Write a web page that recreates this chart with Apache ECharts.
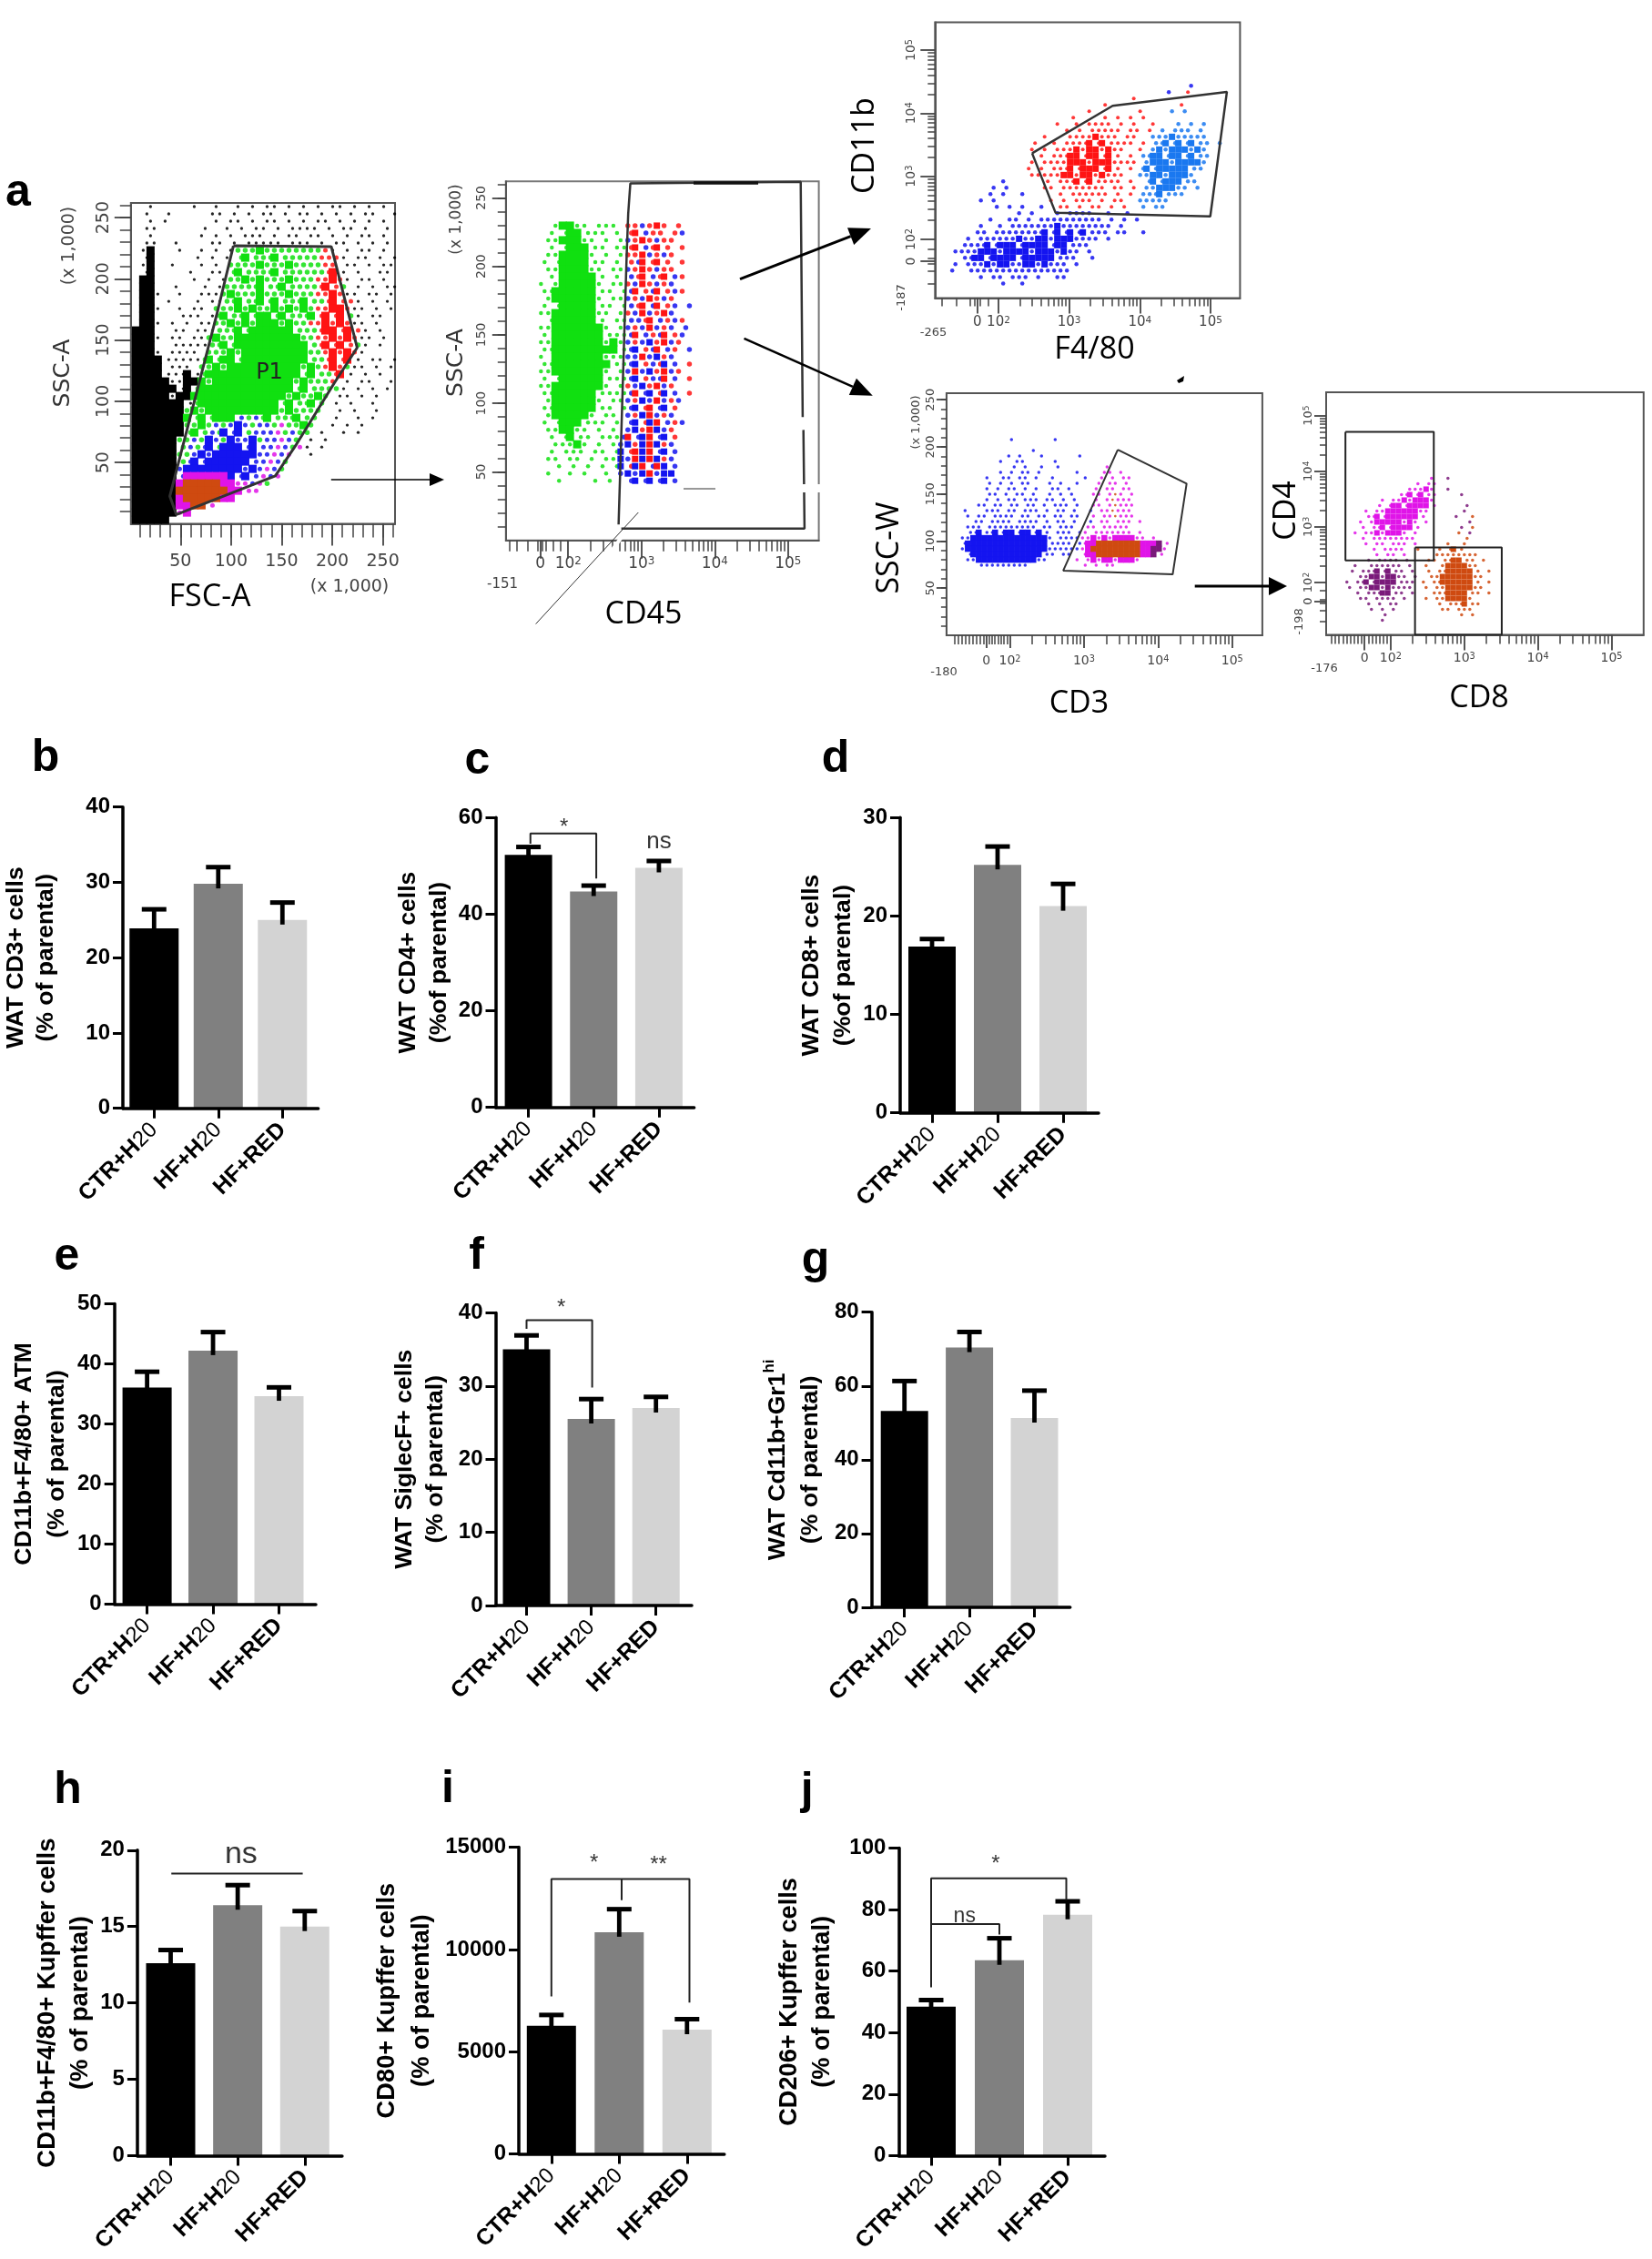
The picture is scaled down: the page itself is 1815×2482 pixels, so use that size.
<!DOCTYPE html>
<html><head><meta charset="utf-8"><style>html,body{margin:0;background:#fff}#c{width:1815px;height:2482px}</style>
<script src="https://cdn.jsdelivr.net/npm/echarts@6/dist/echarts.min.js"></script></head><body><div id="c"></div><script>
const categories=['CTR+H20','HF+H20','HF+RED'];
const barColors=['#000000','#808080','#d3d3d3'];
// mean and top of error bar per panel
const meanB=[23.9,29.8,25.0], errB=[26.6,32.2,27.5];
const meanC=[52.3,44.7,49.6], errC=[54.2,46.2,51.3];
const meanD=[16.9,25.2,21.0], errD=[17.8,27.2,23.4];
const meanE=[36.05,42.2,34.6], errE=[38.9,45.5,36.3];
const meanF=[35.0,25.5,27.0], errF=[37.1,28.4,28.7];
const meanG=[53.2,70.4,51.3], errG=[61.7,75.0,59.1];
const meanH=[12.6,16.4,15.0], errH=[13.55,17.8,16.1];
const meanI=[6270,10846,6080], errI=[6865,12038,6660];
const meanJ=[48.4,63.5,78.3], errJ=[51.0,71.1,83.1];
// flow gates, in axis units
const gateA=[[102.3,227],[199,226.4],[224.6,143.8],[201.9,114.8],[164.9,65.3],[143.7,39],[45.9,7.5],[39.5,22.5],[85.6,170],[102.3,227]];
const gateB=[[5.21,80.6],[5.225,8.65],[2.725,8.65],null,[2.688,11.6],[2.797,206.3],[2.819,238.3],[2.848,260.5],[5.173,261.7],[5.2,90]];
const gateC=[[2.476,3.365],[3.615,4.117],[5.231,4.338],[4.996,2.364],[2.807,2.423],[2.476,3.365]];
const gateD=[[3.456,196.9],[4.385,160.9],[4.197,64.7],[2.72,68.7],[3.456,196.9]];
const gateE1=[[1.386,4.709],[2.586,4.709],[2.586,2.396],[1.386,2.396],[1.386,4.709]];
const gateE2=[[2.331,2.63],[3.509,2.63],[3.509,1.061],[2.331,1.061],[2.331,2.63]];
// flow event density; one char per cell, upper case = dense
const rowsA=[
"  k     k  k  k k kk k k k kk k k k k"," k  k     kk k k kk k kk k k k kk  k","  k k      k kk k kk k k kk k k k k "," kk      k  k k kk k kkkk k kk k  k","  k      k k k kkk k kk kk k k kk k"," kk  k    kk k kkkkk kkk k kk k k k",
" kK   k  k k k"+"gggGggggggggr"+"k k kk k "," kK     k k k "+"gGgggGgggggrrr"+"k kk k k"," kK  k   k k "+"ggggGgggGggggrr"+" kk k kk"," kK    k  kk "+"gGggggGggggggrR"+"k k  kk "," KK     k k k"+"ggGgGgggGgggrrRr"+"k kk k"," KK  k   k k"+"gggggGggGggggrRrg"+" k k kk",
" KKk  k  kkk"+"gGgggGgggGgggrrRr"+"kk kk k"," KK k   k kk"+"ggGggGgGgggGggrRrr"+"k k k "," KKk  k kk "+"gggGgGggGgGgGgrrRRr"+"kk k k"," KK   kkk k"+"gGggGgGGgGgggGrRrRg"+"k kk "," KKk k k kk"+"ggGgGgGGGgGggrrRrRr"+"kk k","KKK  kk kkk"+"gggGgGGGGGGgggrRRrRr"+"k k ",
"KKKk kk kk"+"gGggGGGGGGGGGggrrRrRr"+"kk k","KKK  kkkkk"+"ggGgGGGGGGGGGGgrRrRrg"+"k k ","KKKk kkkk "+"gggGgGGGGGGGGGggrRrRr"+"k  ","KKKKkkkkk"+"gGgGGgGGGGGGGGGggrRrR"+"k kk k","KKKK kkk "+"ggGgGGGGGGGGGGgGgrRrg"+"kk k k","KKKKkkkKk"+"gGGGGGGGGGGGGGgGggrR"+"k k k  ",
"KKKKKkkKK"+"GgGGGGGGGGGGGgGgggr"+" k kk  k","KKKKKKkK"+"gGGGGGGGGGGGGGgGgggg"+"k k k k ","KKKKKkKK"+"GGGGGGGGGGGGGgGggGg"+" kk k k ","KKKKKKKk"+"gGGGGGGGGGGGgGggGg"+" k k  k  ","KKKKKKK"+"gGgGGGGGGGGGGgGgggg"+"  k k  k","KKKKKKK"+"GgGgGGGbgbgGgggGgg"+"  k  k k",
"KKKKKKK"+"ggGgbgbBbgbbgmggGg"+"  k k k","KKKKKKK"+"gGgbgBbBgbbbmgbgg"+" k  k k","KKKKKK"+"ggbgBbgBbbBgbbmbg"+" k k","KKKKKK"+"gbgbBgBBBbBbbmbgm"+"k k","KKKKKK"+"ggbBbBBBBBBbbmbm"+"  k","KKKKKK"+"gbBbBBBBBBbbmbg",
"KKKKKK"+"bBBBBBBBBbBbmbg","KKKKKK"+"bMMMMMMBbBbmbm","KKKKKK"+"MOOOOOMMmmbmg","KKKKKK"+"OOOOOOOMMmm","KKKKKK"+"MOOOOOMM","KKKKKK"+"MMOOm","KKKKKK"+"mM","KKKKK "];
const rowsB=[
"   gGGgg ggg rrbrRr r","  g gGGggg g rRbrr rb","  ggGGGgg g gbrRrbrr ","  g gGGGgg ggrRbrRr r","  ggGGGGg g grrRbrbr "," g gGGGGgg g rbRrRr r","  ggGGGGgg ggbrRrbrr ","  g GGGGGg g brRbrRbr"," g gGGGGGg ggrbRrbrb "," ggGGGGGGgg gbRrbRrbr","  gGGGGGGg ggbrbRrbr "," g gGGGGGgg gbrRbRrb b"," ggGGGGGGgg grbRbrRb ","  gGGGGGGg ggbbrRbrbr "," ggGGGGGGGg gbrbRbrb b"," g GGGGGGGgggbRbrbRrb "," ggGGGGGGGgGgbrbBrRbr "," ggGGGGGGGGGgbBrbRbr b",
" g GGGGGGGgggbbRbBrb  "," ggGGGGGGGGggbBrbrBb r"," ggGGGGGGGg gbRbBrRbr "," g gGGGGGGgggbBrbbRb r"," ggGGGGGGGg grbBrRbr  "," ggGGGGGGggggbRbBrBb r","  gGGGGGGg ggbrBbRbrb "," ggGGGGGGgg gbBrRbBr  ","  gGGGGGg gg brBRbrb  "," g gGGGggg g bBrBRbrb ","  ggGGgg g g bBrRBbr  ","  g gGgg gggbRbBRbBr  ","   gggGg g gbBrBRBrb  ","  g ggg gg gBrRBRbBb  ","  gg gg g ggBbRBRBrb  ","   g g g g gBrBRbRBb  ","  g  g g  g bBbBRbBB  ","   g    g g  bBbBbBb   "];
const rowsC=[
"                                      b","                                  b  r","                             r   ","                        r           r","                      r       r    l l","                   r    r r r r     ","                 r  r rrrr r r  r   l l l","                  r r rrrrr rr r l lll l","               r   rrrrRrrr rr  lllLlllll","             r  r rrrrRrRrrrr r llLlLlLll l","             r r rrrRrRRrRrr  r lLlLLLlLl","              r rrrRRrRRrRr r llLLlLLlLll","             r rrrrRRRrRRRrrrr lLLLlLLLLl","            r r rrrRrRRRrRr r lLlLLLLLll","             rrrrrRRrRRrRrrr  llLLlLLLl","        b      r rrrRrRrrrr r  lLlLLLll",
"       b b     rr rrrrrrr rr r llLLLll l","      b b  b     r rrrrrr r r lllLlll","     b b        r r rrr r rr  lllll","       b b b  b  rr r rr r r  l ll","           b b   b bbbb  b  b ","      b  bb b bbbbbbbbbb b b b","     b  b bbbbbbbBbbbbbbbb b","    bb bbbbbbbbBbBbBbBbbb bb  b","   b bbbbbbBbbBBbBBBbbbb b","  bbbbBbBBBbBBBBbBBbbb"," bbbbBBBbBBBBbBBBbBbb b","  bbBBbBBBBbBBBBBbbb  b"," b bbbBbBBbbBBbBbbb b","b  bbbbbbbbbbbbbbbb ","     b bb bbb b  bb","        b  b  "];
const rowsD=[
"          b       b","","              b ","         b b   b      b","        b  bb     b  ","          b b  b  b        m","        b b bb b      b    mm m","     b  bb bb b  b     b  m m mm","      b b b bb   b b  b   m mm m","     b b bb b b  bb b    m mm mm","      bb b bb b  b b b   mm mom m","     b b bb bbb bb b b   m mommm","    bb bb bb bb b bbb b  mm mommm"," b   bbb bb bbb b bb b  b mmommm","  b bb bbbb bb bb bb bb  m mmommm","   bb bbbb bbbb b bb b  b mm mmm m","  bbb bbbbbbbbb bb bbb  mm mmmmm","  bbBbbBbBBbBBbBb bbb bm mmmmmmm m"," bbBBBBBBBBBBBBBBb bbbbmmMmMmMMMMmm m"," bBBBBBBBBBBBBBBBbbbb bmMMOOOOOOOOMMMPm"," bBBBBBBBBBBBBBBBbbbbbbmMOOOOOOOOOMMPPm","  bBBBBBBBBBBBBBbb bb  mMMOOOOOOOOMMPm","  bbBBBBBBBBBBBbb     m mMmMMmMMMm","    bbbbbbbbb          m m mm "];
const rowsE=[
"                 m  p","              m mm","             mmmMm  p","           mmMmMmm    p","        m mmMmMMMm","       m mMMmMMMMm     p","     m mmMMMMMMmm      p","     mmMmMMMMMMm     p  o","    m mMMMMMmMm m       p","    m mmMmMMMMm       p o","   m mmMmMMMm m       o p","    m mmmmmmmm         o","     m mm mmm m     o  o","      m mmmm  o   o oOo  ","       m mm m     oooooooo","     p pmpp p   oo ooOOoo o","   p  pppppp p  o  oOOOOoo","  p pppPpPpp p  o ooOOOOOo o","    ppPPpPPpp p  ooOOOOOOoo"," p ppPpPPPPppp o ooOOOOOOo o","  p ppPPpPpppp  o ooOOOOOoo","   p pppPPpp p   oooOOOOoo o","    pp pppp p   o ooOOOOo","     p p pp       o oooOoo","      p p p        oo ooo","        p             o o","        p "];
const linTicks=[50,100,150,200,250];
const linLabels=['50','100','150','200','250'];
const logLabels=['0','10{s|2}','10{s|3}','10{s|4}','10{s|5}'];

const colors={k:'#000',g:'#10e010',r:'#ff1414',b:'#1414f0',l:'#1a78f0',m:'#e014e8',p:'#7a1a7a',o:'#cf4a10'};
const grid=[],xAxis=[],yAxis=[],series=[];
const fontB='"Liberation Sans",Arial,sans-serif', fontC='"Open Sans",sans-serif', fontT='"DejaVu Sans",sans-serif';

function barPanel(p){
  const g=grid.length, xi=xAxis.length, yi=yAxis.length;
  grid.push({left:p.x0,top:p.yTop,width:p.xEnd-p.x0,height:p.yZero-p.yTop});
  const vals=p.mean.map((_,i)=>i);
  xAxis.push({gridIndex:g,type:'value',position:'bottom',z:6,min:-(p.c0-p.x0)/p.step,max:(p.xEnd-p.c0)/p.step,splitLine:{show:false},
    axisLine:{onZero:false,lineStyle:{color:'#000',width:3.5}},
    axisTick:{customValues:vals,length:11,lineStyle:{color:'#000',width:3}},
    axisLabel:{customValues:vals,rotate:45,margin:20,fontFamily:fontB,fontSize:25,fontWeight:'bold',color:'#000',
      formatter:v=>{const c=categories[Math.round(v)];return c.endsWith('20')?'{b|'+c.slice(0,-2)+'}{n|20}':'{b|'+c+'}';},
      rich:{b:{fontFamily:fontB,fontSize:25,fontWeight:'bold',color:'#000'},n:{fontFamily:fontB,fontSize:24,fontWeight:'normal',color:'#000'}}}});
  yAxis.push({gridIndex:g,type:'value',position:'left',z:6,min:0,max:p.max,interval:p.interval,splitLine:{show:false},
    axisLine:{show:true,onZero:false,lineStyle:{color:'#000',width:3.5}},
    axisTick:{show:true,length:11,lineStyle:{color:'#000',width:3}},
    axisLabel:{margin:14,fontFamily:fontB,fontSize:24,fontWeight:'bold',color:'#000',formatter:v=>String(v)},
    name:p.name,nameLocation:'middle',nameRotate:90,nameGap:p.gap,
    nameTextStyle:{fontFamily:fontB,fontSize:p.ns||26.6,fontWeight:'bold',color:'#000',lineHeight:p.lh,
      rich:{a:{fontFamily:fontB,fontSize:p.ns||26.6,fontWeight:'bold',color:'#000',lineHeight:p.lh},s:{fontFamily:fontB,fontSize:17,fontWeight:'bold',color:'#000',verticalAlign:'top',lineHeight:p.lh}}}});
  series.push({type:'bar',xAxisIndex:xi,yAxisIndex:yi,barWidth:p.bw||54,animation:false,silent:true,z:2,
    data:p.mean.map((v,i)=>({value:[i,v],itemStyle:{color:barColors[i]}}))});
  series.push({type:'custom',xAxisIndex:xi,yAxisIndex:yi,animation:false,silent:true,z:3,clip:false,
    data:p.mean.map((v,i)=>[i,p.err[i],v]),
    renderItem:(params,api)=>{
      const top=api.coord([api.value(0),api.value(1)]),bar=api.coord([api.value(0),api.value(2)]);
      const cw=p.cap||13.5;
      return {type:'group',children:[
        {type:'rect',shape:{x:top[0]-2.4,y:top[1],width:4.8,height:bar[1]-top[1]+5},style:{fill:'#000'}},
        {type:'rect',shape:{x:top[0]-cw,y:top[1]-1,width:2*cw,height:5},style:{fill:'#000'}}]};
    }});
  (p.brackets||[]).forEach(b=>series.push({type:'line',xAxisIndex:xi,yAxisIndex:yi,data:b,symbol:'none',silent:true,animation:false,clip:false,z:4,lineStyle:{color:'#222',width:2}}));
  (p.notes||[]).forEach(n=>series.push({type:'scatter',xAxisIndex:xi,yAxisIndex:yi,data:[[n[0],n[1]]],symbolSize:0,silent:true,animation:false,clip:false,z:4,
    label:{show:true,position:'inside',formatter:n[2],fontFamily:fontB,fontSize:n[3],color:'#000'}}));
}
const decadeMinor=[];[2,3,4].forEach(d=>[2,3,4,5,6,7,8,9].forEach(k=>decadeMinor.push(d+Math.log10(k))));
function flowAxis(o,isY){
  const base={gridIndex:o.g,type:'value',position:isY?'left':'bottom',min:o.min,max:o.max,splitLine:{show:false}};
  const tc='#444';
  const minor=Object.assign({},base,{axisLine:{show:false,onZero:false},axisLabel:{show:false},axisTick:{show:true,customValues:o.minor,length:o.tm||8,lineStyle:{color:tc,width:1.5}}});
  const major=Object.assign({},base,{axisLine:{show:true,onZero:false,lineStyle:{color:'#555',width:2}},axisTick:{show:true,customValues:o.ticks,length:o.tl||15,lineStyle:{color:tc,width:1.8}},
    axisLabel:{customValues:o.ticks,rotate:isY?90:0,margin:o.m||4,fontFamily:fontT,fontSize:o.fs,color:'#444',
      formatter:v=>{let b=0;o.ticks.forEach((t,i)=>{if(Math.abs(t-v)<Math.abs(o.ticks[b]-v))b=i;});return o.labels[b];},
      rich:{s:{fontFamily:fontT,fontSize:o.fs*0.7,color:'#444',verticalAlign:'top'}}}});
  return [major,minor];
}
function flowPlot(p){
  const g=grid.length;
  grid.push({show:true,left:p.l,top:p.t,width:p.r-p.l,height:p.b-p.t,borderColor:p.bc||'#555',borderWidth:2,backgroundColor:'transparent'});
  const xi=xAxis.length, yi=yAxis.length;
  xAxis.push(...flowAxis(Object.assign({g},p.x),false));
  yAxis.push(...flowAxis(Object.assign({g},p.y),true));
  const m=p.map, groups={};
  m.rows.forEach((row,r)=>{[...row].forEach((ch,c)=>{if(ch===' ')return;
    const up=ch===ch.toUpperCase();
    (groups[ch]=groups[ch]||[]).push([m.x0+(c+(!up&&r%2?0.5:0))*m.dx,m.y0-r*m.dy]);});});
  ['k','g','r','b','l','m','p','o','K','G','R','B','L','M','P','O'].forEach(ch=>{
    if(!groups[ch])return;
    const up=ch===ch.toUpperCase();
    const size=(m.sizes&&m.sizes[ch])||(up?m.cell+(m.pad===undefined?1:m.pad):m.cell*(m.dot||0.5));
    series.push({type:'scatter',xAxisIndex:xi,yAxisIndex:yi,data:groups[ch],silent:true,animation:false,
      symbol:up?'rect':'circle',symbolSize:size,
      itemStyle:{color:colors[ch.toLowerCase()],opacity:up?1:0.85},z:up?3:2});
  });
  p.gates.forEach(gt=>series.push({type:'line',xAxisIndex:xi,yAxisIndex:yi,data:gt,symbol:'none',silent:true,animation:false,z:5,connectNulls:false,lineStyle:{color:p.gc||'#333',width:p.gw||2.5}}));
}
// bar panels
barPanel({mean:meanB,err:errB,x0:128,xEnd:349.6,c0:163.4,step:72.8,yTop:886.7,yZero:1217.7,max:40,interval:10,name:'WAT CD3+ cells\n(% of parental)',gap:68,lh:33});
barPanel({mean:meanC,err:errC,x0:544.5,xEnd:762.6,c0:580.6,step:71.65,yTop:898.3,yZero:1216.7,max:60,interval:20,bw:52,name:'WAT CD4+ cells\n(%of parental)',gap:45,lh:34,
  brackets:[[[0.03,54.6],[0.03,56.7],[1.04,56.7],[1.04,47.4]]],notes:[[0.547,58,'*',24],[2,55,'ns',26]]});
barPanel({mean:meanD,err:errD,x0:989,xEnd:1207,c0:1024,step:72,yTop:898.3,yZero:1222.7,max:30,interval:10,bw:52,name:'WAT CD8+ cells\n(%of parental)',gap:44,lh:35});
barPanel({mean:meanE,err:errE,x0:125.7,xEnd:347,c0:161.6,step:72.45,yTop:1432.4,yZero:1762.4,max:50,interval:10,name:'CD11b+F4/80+ ATM\n(% of parental)',gap:42,lh:36.5});
barPanel({mean:meanF,err:errF,x0:544.5,xEnd:760,c0:578.5,step:71.1,yTop:1442.4,yZero:1764.1,max:40,interval:10,bw:52,name:'WAT SiglecF+ cells\n(% of parental)',gap:49,lh:34,
  brackets:[[[0,37.8],[0,39],[1.014,39],[1.014,29.8]]],notes:[[0.536,40.6,'*',24]]});
barPanel({mean:meanG,err:errG,x0:957.6,xEnd:1175.7,c0:993.7,step:71.4,yTop:1441.7,yZero:1765.9,max:80,interval:20,bw:52,name:'{a|WAT Cd11b+Gr1}{s|hi}\n{a|(% of parental)}',gap:49,lh:36});
barPanel({mean:meanH,err:errH,x0:150.9,xEnd:375.9,c0:187.5,step:73.65,yTop:2032.8,yZero:2368.4,max:20,interval:5,name:'CD11b+F4/80+ Kupffer cells\n(% of parental)',ns:27.5,gap:44,lh:36,
  brackets:[[[0.01,18.47],[1.97,18.47]]],notes:[[1.05,19.7,'ns',34]]});
barPanel({mean:meanI,err:errI,x0:570,xEnd:795.8,c0:605.8,step:74.5,yTop:2029.6,yZero:2366.6,max:15000,interval:5000,name:'CD80+ Kupffer cells\n(% of parental)',ns:27.3,gap:88,lh:38,
  brackets:[[[0,7710],[0,13450],[2.036,13450],[2.036,7400]],[[1.036,13450],[1.036,12410]]],notes:[[0.63,14200,'*',24],[1.58,14140,'**',24]]});
barPanel({mean:meanJ,err:errJ,x0:987.4,xEnd:1214,c0:1023,step:75,yTop:2030.4,yZero:2368.4,max:100,interval:20,name:'CD206+ Kupffer cells\n(% of parental)',ns:27.2,gap:66,lh:36,
  brackets:[[[0,54.7],[0,90.1],[1.98,90.1],[1.98,83.1]],[[0.01,75.3],[1,75.3],[1,71.9]]],notes:[[0.49,77.8,'ns',23],[0.945,94.8,'*',24]]});
// flow plots
const lin10=[];for(let v=10;v<=260;v+=10)lin10.push(v);
flowPlot({l:143.8,r:434,t:223,b:575.4,gates:[gateA],gw:3,
  x:{min:1,max:262,ticks:linTicks,labels:linLabels,minor:lin10,fs:19,m:32,tl:24,tm:15},
  y:{min:0,max:262,ticks:linTicks,labels:linLabels,minor:lin10,fs:19,m:20,tl:18,tm:12},
  map:{rows:rowsA,x0:6,y0:259,dx:7.2,dy:5.95,cell:8,dot:0.42,sizes:{g:5.5,r:5,b:5,m:5}}});
flowPlot({l:555.8,r:899.6,t:199.3,b:593.7,bc:'#777',gates:[gateB],gw:2.5,
  x:{min:1.15,max:5.42,ticks:[1.62,2,3,4,5],labels:logLabels,minor:[1.2,1.3,1.45,1.58,1.65,1.7,1.8,1.9].concat(decadeMinor),fs:17,m:17,tl:20,tm:12},
  y:{min:0,max:262,ticks:linTicks,labels:linLabels,minor:lin10,fs:14,m:19,tl:15,tm:9},
  map:{rows:rowsB,x0:1.53,y0:229.7,dx:0.0988,dy:5.32,cell:8,dot:0.55,sizes:{r:5.5,b:5.5,g:4.5,R:7,B:7}}});
flowPlot({l:1027.3,r:1362.4,t:24.5,b:327.6,gates:[gateC],gw:2.5,
  x:{min:1.103,max:5.417,ticks:[1.7,2,3,4,5],labels:logLabels,minor:[1.2,1.4,1.6,1.66,1.74,1.85].concat(decadeMinor),fs:15,m:19,tl:17,tm:9},
  y:{min:1.068,max:5.44,ticks:[1.654,2,3,4,5],labels:logLabels,minor:[1.3,1.5,1.62,1.7,1.85].concat(decadeMinor),fs:14,m:19,tl:16,tm:8},
  map:{rows:rowsC,x0:1.301,y0:4.433,dx:0.0901,dy:0.101,cell:7,dot:0.42,pad:0,sizes:{r:4,b:4.5,l:4.5}}});
flowPlot({l:1039.9,r:1386.9,t:432,b:698,gates:[gateD],gw:2,
  x:{min:1.145,max:5.407,ticks:[1.684,2,3,4,5],labels:logLabels,minor:[1.25,1.3,1.35,1.4,1.45,1.5,1.55,1.6,1.65,1.72,1.76,1.8,1.84,1.88,1.92,1.96].concat(decadeMinor),fs:14,m:21,tl:14,tm:10},
  y:{min:0,max:257,ticks:linTicks,labels:linLabels,minor:lin10,fs:13,m:11,tl:11,tm:6},
  map:{rows:rowsD,x0:1.285,y0:207.7,dx:0.0737,dy:5.8,cell:6,dot:0.45,pad:0.5,sizes:{b:3.5,m:3.5}}});
flowPlot({l:1457,r:1805.8,t:431,b:697.4,gates:[gateE1,gateE2],gw:2,gc:'#222',
  x:{min:1.124,max:5.436,ticks:[1.646,2,3,4,5],labels:logLabels,minor:[1.2,1.25,1.3,1.35,1.4,1.45,1.5,1.55,1.6,1.7,1.75,1.8,1.85,1.9,1.95].concat(decadeMinor),fs:14,m:19,tl:17,tm:10},
  y:{min:1.061,max:5.419,ticks:[1.661,2,3,4,5],labels:logLabels,minor:[1.3,1.5,1.62,1.7,1.85].concat(decadeMinor),fs:13,m:13,tl:13,tm:7},
  map:{rows:rowsE,x0:1.294,y0:3.874,dx:0.0742,dy:0.0982,cell:6,dot:0.42,pad:0,sizes:{m:3.5,p:3.5,o:3.5}}});

// overlay text and arrows
const graphic=[];
function T(text,x,y,size,o){o=o||{};graphic.push({type:'text',x,y,rotation:o.rot?Math.PI/2:0,z:100,silent:true,
  style:{text,fontFamily:o.font||fontB,fontSize:size,fontWeight:o.w||'normal',fill:o.c||'#000',align:'center',verticalAlign:'middle'}});}
function L(x1,y1,x2,y2,w,c){graphic.push({type:'line',z:100,silent:true,shape:{x1,y1,x2,y2},style:{stroke:c||'#000',lineWidth:w}});}
function Arrow(x1,y1,x2,y2,w,hl,hw){
  const d=Math.hypot(x2-x1,y2-y1),ux=(x2-x1)/d,uy=(y2-y1)/d,bx=x2-ux*hl,by=y2-uy*hl;
  L(x1,y1,bx,by,w);
  graphic.push({type:'polygon',z:100,silent:true,shape:{points:[[x2,y2],[bx-uy*hw/2,by+ux*hw/2],[bx+uy*hw/2,by-ux*hw/2]]},style:{fill:'#000'}});
}
['a',20,212,'b',50,833,'c',524.5,836,'d',918,834,'e',73.5,1381,'f',523.5,1380,'g',896,1385,'h',74.5,1967,'i',492,1966,'j',886.6,1968].reduce((a,v,i,s)=>{if(i%3===0)T(v,s[i+1],s[i+2],50,{w:'bold'});return a;},0);
T('FSC-A',230.6,656,34,{font:fontC});T('SSC-A',69,410,25,{font:fontT,rot:1,c:'#333'});T('(x 1,000)',76,270,19,{font:fontT,rot:1,c:'#444'});T('(x 1,000)',384,645,19,{font:fontT,c:'#444'});T('P1',296,410,24,{font:fontT,c:'#222'});
T('CD45',707,675.6,34,{font:fontC});T('SSC-A',501.8,398.5,25,{font:fontT,rot:1,c:'#333'});T('(x 1,000)',501.8,241,17,{font:fontT,rot:1,c:'#444'});T('-151',552,642,15,{font:fontT,c:'#444'});
T('CD11b',950,160,34,{font:fontC,rot:1});T('F4/80',1202.5,384,34,{font:fontC});T('-265',1025.6,366,13,{font:fontT,c:'#444'});T('-187',991,327,13,{font:fontT,rot:1,c:'#444'});
T('SSC-W',977,602,34,{font:fontC,rot:1});T('CD3',1185.4,773,34,{font:fontC});T('-180',1037,739,13,{font:fontT,c:'#444'});T('(x 1,000)',1007,464,13,{font:fontT,rot:1,c:'#444'});
T('CD4',1413.7,561,34,{font:fontC,rot:1});T('CD8',1625,767,34,{font:fontC});T('-176',1455,735,13,{font:fontT,c:'#444'});T('-198',1428,683,13,{font:fontT,rot:1,c:'#444'});
Arrow(363.8,527,488,527,1.6,16,14);Arrow(813,306.7,957,251,3,24,20);Arrow(817.5,371.9,958.8,434.7,2.5,24,20);Arrow(1312.7,643.9,1414,643.9,3,20,20);
graphic.push({type:'rect',z:99,silent:true,shape:{x:786,y:532,width:115,height:9},style:{fill:'#fff'}});
L(751,537,786,537,1.2,'#333');
L(683,590,660,622,4,'#fff');L(701.3,563,588.6,685.6,1,'#333');
L(762,201,833,201,3.5,'#111');
graphic.push({type:'polygon',z:100,silent:true,shape:{points:[[1293,418],[1301,413],[1300,419],[1295,421]]},style:{fill:'#000'}});

const chart=echarts.init(document.getElementById('c'));
chart.setOption({animation:false,backgroundColor:'#fff',grid,xAxis,yAxis,series,graphic});
</script></body></html>
